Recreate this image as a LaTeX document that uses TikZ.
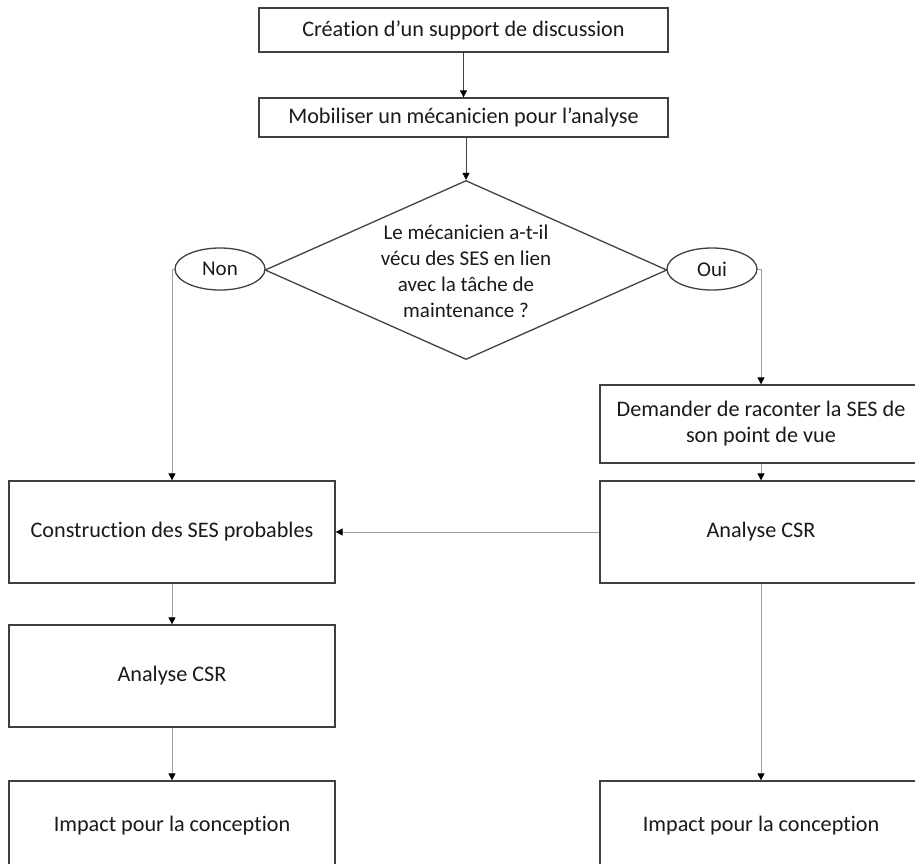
\documentclass[tikz,border=0pt]{standalone}
\usepackage{fontspec}
\setmainfont{Carlito}[Ligatures=CommonOff]
\usetikzlibrary{shapes.geometric,arrows.meta}
\definecolor{boxline}{HTML}{404040}
\definecolor{conn}{HTML}{A0A0A0}
\definecolor{txt}{HTML}{1A1A1A}
\tikzset{
  boxnode/.style={draw=boxline, line width=1.3pt, fill=white, inner sep=0pt, text=txt,
    font=\fontsize{22.2}{26}\selectfont, align=center},
  ovalnode/.style={ellipse, draw=boxline, line width=1.3pt, fill=white, inner sep=0pt,
    minimum width=90pt, minimum height=42pt, text=txt, font=\fontsize{21}{26}\selectfont},
  conn/.style={draw=conn, line width=1pt, -{Triangle[black,length=7pt,width=7pt]}},
  connd/.style={draw=black!75, line width=0.9pt, -{Triangle[black,length=7pt,width=7pt]}},
}
\begin{document}
\begin{tikzpicture}[x=1pt,y=-1pt]
\useasboundingbox (0,0) rectangle (915,863);
\fill[white] (0,0) rectangle (915,863);
\clip (0,0) rectangle (915,863);
% boxes
\node[boxnode, minimum width=409pt, minimum height=44pt] (b1) at (463.5,30) {Création d’un support de discussion};
\node[boxnode, minimum width=409pt, minimum height=39pt] (b2) at (463.5,117.5) {Mobiliser un mécanicien pour l’analyse};
\node[diamond, draw=boxline, line width=1.3pt, inner sep=0pt, minimum width=402pt, minimum height=179pt] (dia) at (466,270) {};
\node[text=txt, font=\fontsize{21}{26}\selectfont, align=center, inner sep=0pt] (diatext) at (466,271) {Le mécanicien a-t-il\\vécu des SES en lien\\avec la tâche de\\maintenance ?};
\node[ovalnode] (non) at (220,269) {Non};
\node[ovalnode] (oui) at (712,269) {Oui};
\node[boxnode, minimum width=322pt, minimum height=78pt] (dem) at (761,424) {Demander de raconter la SES de\\son point de vue};
\node[boxnode, minimum width=322pt, minimum height=102pt] (ana2) at (761,532) {Analyse CSR};
\node[boxnode, minimum width=326pt, minimum height=102pt] (cons) at (172,532) {Construction des SES probables};
\node[boxnode, minimum width=326pt, minimum height=102pt] (ana1) at (172,676) {Analyse CSR};
\node[boxnode, minimum width=326pt, minimum height=90pt] (imp1) at (172,826) {Impact pour la conception};
\node[boxnode, minimum width=322pt, minimum height=90pt] (imp2) at (761,826) {Impact pour la conception};
% connectors
\draw[connd] (b1.south) -- (b2.north);
\draw[connd] (b2.south -| dia.north) -- (dia.north);
\draw[conn] (non.west) -| (cons.north);
\draw[conn] (oui.east) -| (dem.north);
\draw[conn] (dem.south) -- (ana2.north);
\draw[conn] (ana2.west) -- (cons.east);
\draw[conn] (ana2.south) -- (imp2.north);
\draw[conn] (cons.south) -- (ana1.north);
\draw[conn] (ana1.south) -- (imp1.north);
\end{tikzpicture}
\end{document}
